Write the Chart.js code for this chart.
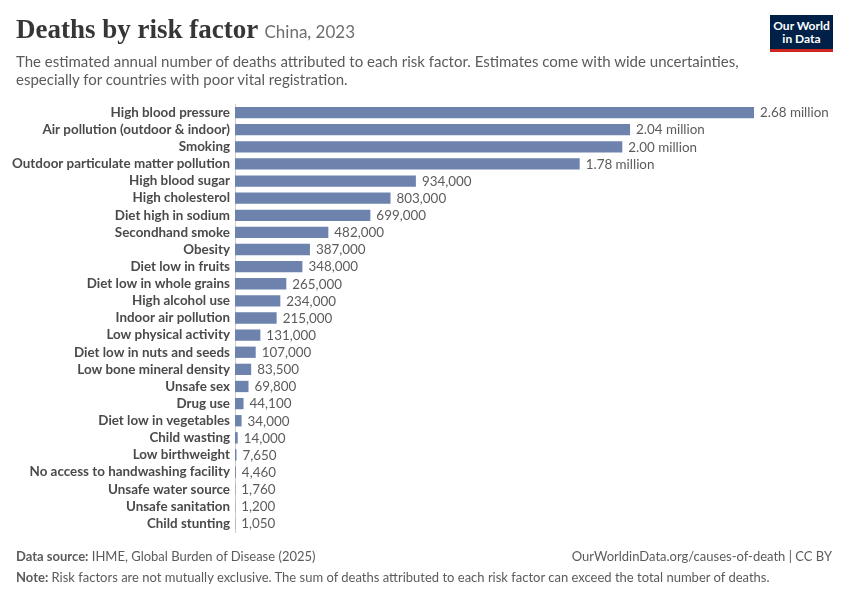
<!DOCTYPE html>
<html>
<head>
<meta charset="utf-8">
<script src="https://cdn.jsdelivr.net/npm/chart.js@4.4.1/dist/chart.umd.min.js"></script>
<style>
  body { margin: 0; background: #fff; font-family: Lato, sans-serif; }
  #wrap { position: relative; width: 850px; height: 600px; overflow: hidden; }
  #chart { position: absolute; left: 0; top: 0; }
  .txt { position: absolute; white-space: nowrap; }
  #title { left: 16px; top: 14px; font-family: "Liberation Serif", serif; font-weight: bold; font-size: 27px; color: #363636; }
  #title span { font-family: Lato, sans-serif; font-weight: normal; font-size: 17px; color: #6e6e6e; }
  #subtitle { left: 16px; top: 52px; font-size: 15px; line-height: 18px; color: #5b5b5b; }
  #source { left: 16px; top: 548px; font-size: 13px; color: #5b5b5b; }
  #note { left: 16px; top: 569px; font-size: 13px; color: #5b5b5b; }
  #credit { right: 18px; top: 548px; font-size: 13px; color: #5b5b5b; }
  #logo { position: absolute; left: 770px; top: 15px; width: 63px; background: #002147; border-bottom: 3px solid #ce261e; color: #fff; font-size: 12px; font-weight: bold; text-align: center; line-height: 13px; padding-top: 4px; height: 30px; }
</style>
</head>
<body>
<div id="wrap">
  <canvas id="chart" width="850" height="600"></canvas>
  <div class="txt" id="title">Deaths by risk factor <span>China, 2023</span></div>
  <div class="txt" id="subtitle">The estimated annual number of deaths attributed to each risk factor. Estimates come with wide uncertainties,<br>especially for countries with poor vital registration.</div>
  <div id="logo">Our World<br>in Data</div>
  <div class="txt" id="source"><b>Data source:</b> IHME, Global Burden of Disease (2025)</div>
  <div class="txt" id="credit">OurWorldinData.org/causes-of-death | CC BY</div>
  <div class="txt" id="note"><b>Note:</b> Risk factors are not mutually exclusive. The sum of deaths attributed to each risk factor can exceed the total number of deaths.</div>
</div>
<script>
const riskFactors = [
  "High blood pressure", "Air pollution (outdoor & indoor)", "Smoking",
  "Outdoor particulate matter pollution", "High blood sugar", "High cholesterol",
  "Diet high in sodium", "Secondhand smoke", "Obesity", "Diet low in fruits",
  "Diet low in whole grains", "High alcohol use", "Indoor air pollution",
  "Low physical activity", "Diet low in nuts and seeds", "Low bone mineral density",
  "Unsafe sex", "Drug use", "Diet low in vegetables", "Child wasting",
  "Low birthweight", "No access to handwashing facility", "Unsafe water source",
  "Unsafe sanitation", "Child stunting"
];
const deaths = [
  2680000, 2040000, 2000000, 1780000, 934000, 803000, 699000, 482000, 387000,
  348000, 265000, 234000, 215000, 131000, 107000, 83500, 69800, 44100, 34000,
  14000, 7650, 4460, 1760, 1200, 1050
];

function formatDeaths(v) {
  if (v >= 1e6) return (v / 1e6).toFixed(2) + " million";
  return v.toLocaleString("en-US");
}

// writes the value just past the end of each bar
const valueLabels = {
  id: "valueLabels",
  afterDatasetsDraw(chart) {
    const ctx = chart.ctx;
    const meta = chart.getDatasetMeta(0);
    ctx.save();
    ctx.font = "13.4px Lato";
    ctx.fillStyle = "#5b5b5b";
    ctx.textBaseline = "middle";
    ctx.textAlign = "left";
    meta.data.forEach((bar, i) => {
      ctx.fillText(formatDeaths(deaths[i]), bar.x + 6, bar.y + 0.5);
    });
    ctx.restore();
  }
};

const ctx = document.getElementById("chart").getContext("2d");
new Chart(ctx, {
  type: "bar",
  data: {
    labels: riskFactors,
    datasets: [{
      data: deaths,
      backgroundColor: "#6d83ad",
      barPercentage: 0.66,
      categoryPercentage: 1
    }]
  },
  options: {
    indexAxis: "y",
    responsive: false,
    animation: false,
    layout: { padding: { top: 104, bottom: 68, left: 0, right: 96 } },
    plugins: { legend: { display: false }, tooltip: { enabled: false } },
    scales: {
      x: { display: false, min: 0, max: 2680000 },
      y: {
        afterFit: scale => { scale.width = 235; },
        grid: { display: false, drawTicks: false },
        border: { display: true, color: "#cccccc", width: 1 },
        ticks: {
          autoSkip: false,
          padding: 5,
          color: "#4a4a4a",
          font: { family: "Lato", size: 13.4, weight: "bold" }
        }
      }
    }
  },
  plugins: [valueLabels]
});
</script>
</body>
</html>
